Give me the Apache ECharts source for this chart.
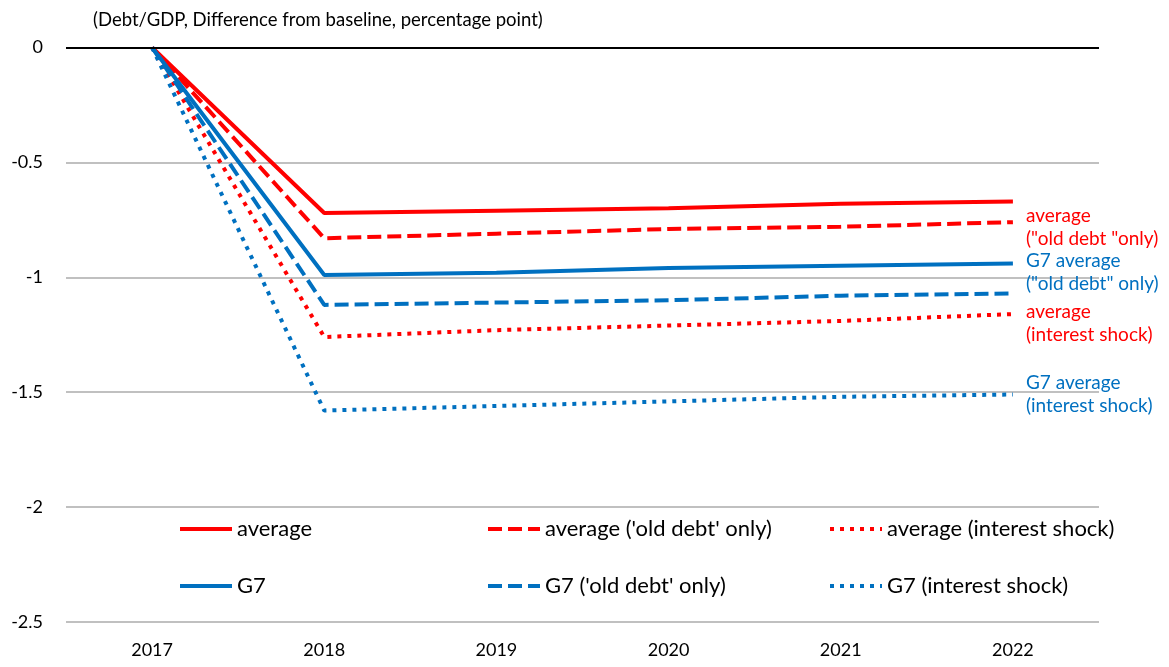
<!DOCTYPE html>
<html>
<head>
<meta charset="utf-8">
<script src="https://cdn.jsdelivr.net/npm/echarts@6/dist/echarts.min.js"></script>
<style>html,body{margin:0;padding:0;background:#fff;}#c{width:1169px;height:667px;}</style>
</head>
<body>
<div id="c"></div>
<script>
var years = ['2017', '2018', '2019', '2020', '2021', '2022'];
var average = [0, -0.72, -0.71, -0.70, -0.68, -0.67];
var averageOldDebt = [0, -0.83, -0.81, -0.79, -0.78, -0.76];
var averageInterest = [0, -1.26, -1.23, -1.21, -1.19, -1.16];
var g7 = [0, -0.99, -0.98, -0.96, -0.95, -0.94];
var g7OldDebt = [0, -1.12, -1.11, -1.10, -1.08, -1.07];
var g7Interest = [0, -1.58, -1.56, -1.54, -1.52, -1.51];
var yTicks = [0, -0.5, -1, -1.5, -2, -2.5];

var RED = '#FF0000', BLUE = '#0070C0';
var FONT = 'Lato, "Open Sans", sans-serif';

function endLbl(text, color, dy) {
  return {
    show: true, formatter: text, color: color, fontFamily: FONT, fontSize: 19,
    lineHeight: 23, distance: 0, offset: [13, dy], align: 'left'
  };
}
function ser(name, data, color, type, label) {
  var s = {
    name: name, type: 'line', data: data, symbol: 'none', silent: true,
    lineStyle: { color: color, width: 4, type: type, cap: 'butt' },
    itemStyle: { color: color }, z: 3
  };
  if (label) s.endLabel = label;
  return s;
}
var DASH = [14, 6], DOT = [4, 6];

function leg(name, left, top) {
  return {
    data: [name], left: left, top: top, padding: 0, itemWidth: 52, itemHeight: 14,
    itemGap: 0,
    itemStyle: { opacity: 0 },
    lineStyle: { width: 4 },
    textStyle: { fontFamily: FONT, fontSize: 22, color: '#000' }, selectedMode: false
  };
}

var chart = echarts.init(document.getElementById('c'));
chart.setOption({
  animation: false,
  backgroundColor: '#fff',
  title: {
    text: '(Debt/GDP, Difference from baseline, percentage point)',
    left: 88, top: 6,
    textStyle: { fontFamily: FONT, fontSize: 18.5, fontWeight: 'normal', color: '#000' }
  },
  grid: { left: 66, right: 70, top: 47.5, bottom: 45 },
  xAxis: {
    type: 'category', data: years, boundaryGap: true,
    axisLine: { show: false }, axisTick: { show: false },
    axisLabel: { fontFamily: FONT, fontSize: 18, color: '#000', margin: 19 }
  },
  yAxis: {
    type: 'value', min: -2.5, max: 0, interval: 0.5,
    axisLine: { show: false }, axisTick: { show: false },
    axisLabel: {
      fontFamily: FONT, fontSize: 18, color: '#000', margin: 23,
      formatter: function (v) { return yTicks.indexOf(v) >= 0 ? String(v) : ''; }
    },
    splitLine: { lineStyle: { width: 2, color: '#c0c0c0' } }
  },
  legend: [
    leg('average', 178, 518),
    leg("average ('old debt' only)", 486, 518),
    leg('average (interest shock)', 828, 518),
    leg('G7', 178, 575),
    leg("G7 ('old debt' only)", 486, 575),
    leg('G7 (interest shock)', 828, 575)
  ],
  series: [
    ser('average', average, RED, 'solid'),
    ser("average ('old debt' only)", averageOldDebt, RED, DASH, endLbl('average\n("old debt "only)', RED, 5)),
    ser('average (interest shock)', averageInterest, RED, DOT, endLbl('average\n(interest shock)', RED, 9)),
    ser('G7', g7, BLUE, 'solid'),
    ser("G7 ('old debt' only)", g7OldDebt, BLUE, DASH, endLbl('G7 average\n("old debt" only)', BLUE, -21)),
    ser('G7 (interest shock)', g7Interest, BLUE, DOT, endLbl('G7 average\n(interest shock)', BLUE, 0)),
    {
      name: 'zero', type: 'line', data: [], silent: true,
      markLine: {
        silent: true, symbol: 'none', label: { show: false },
        lineStyle: { color: '#000', width: 2, type: 'solid' },
        data: [{ yAxis: 0 }]
      }, z: 1
    }
  ]
});
</script>
</body>
</html>
